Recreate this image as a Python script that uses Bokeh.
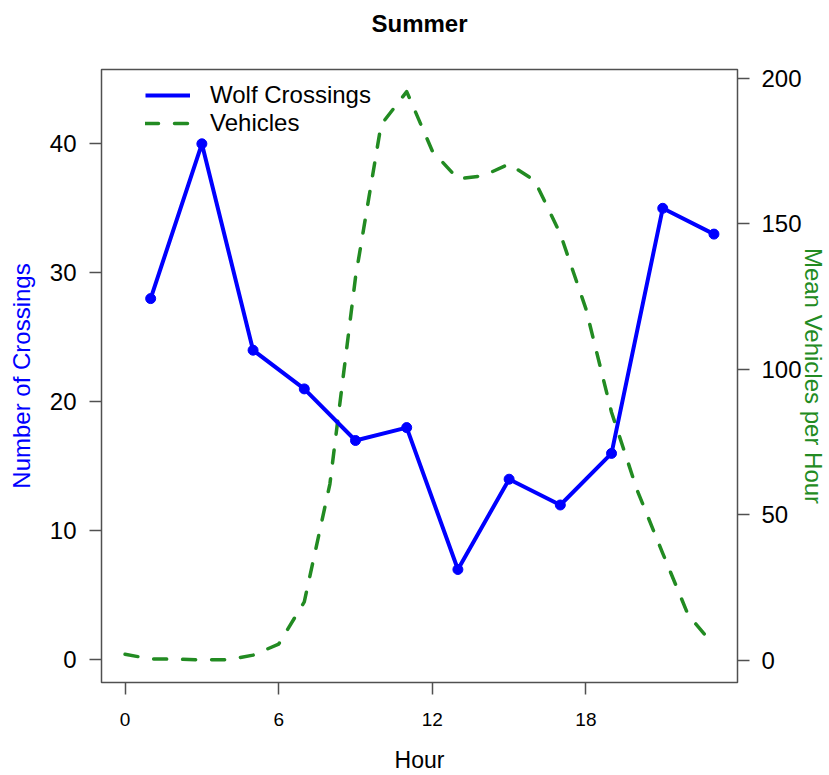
from bokeh.plotting import figure
from bokeh.models import Range1d, LinearAxis, FixedTicker, Legend, LegendItem, Title
from bokeh.embed import file_html
from bokeh.resources import INLINE

# ---- data ----
wolf_hours = [1, 3, 5, 7, 9, 11, 13, 15, 17, 19, 21, 23]
wolf_crossings = [28, 40, 24, 21, 17, 18, 7, 14, 12, 16, 35, 33]

vehicle_hours = list(range(24))
mean_vehicles = [2.0, 0.4, 0.3, 0.1, 0.1, 1.7, 5.5, 20.0, 60.5, 131.5, 184.0, 195.4,
                 175.0, 165.4, 166.5, 170.5, 164.8, 146.5, 120.7, 85.2, 58.4, 36.7, 15.4, 5.1]

x_ticks = [0, 6, 12, 18]
left_ticks = [0, 10, 20, 30, 40]
right_ticks = [0, 50, 100, 150, 200]

FONT = "Liberation Sans"
BLUE = "#0000FF"
GREEN = "#228B22"
GRAY = "#505050"

p = figure(width=829, height=775, output_backend="svg", toolbar_location=None,
           x_range=Range1d(-0.92, 23.92), y_range=Range1d(-1.76, 45.76),
           min_border_left=101, min_border_right=91, min_border_top=69,
           min_border_bottom=93)
p.extra_y_ranges = {"veh": Range1d(-7.7, 203.0)}
p.xgrid.visible = False
p.ygrid.visible = False
p.outline_line_color = GRAY
p.outline_line_width = 1.5
p.background_fill_color = "white"
p.border_fill_color = "white"

# spacer between frame and title (pushes the title up)
p.add_layout(Title(text=" ", text_font_size="2px", standoff=24), "above")
p.title.text = "Summer"
p.title.text_font = FONT
p.title.text_font_size = "24px"
p.title.text_font_style = "bold"
p.title.align = "center"
p.title.text_color = "black"
p.title.standoff = 10

right_axis = LinearAxis(y_range_name="veh")
p.add_layout(right_axis, "right")

def style_axis(ax, ticks, size):
    ax.ticker = FixedTicker(ticks=ticks)
    ax.axis_line_color = None
    ax.major_tick_line_color = GRAY
    ax.major_tick_line_width = 1.5
    ax.major_tick_in = 0
    ax.major_tick_out = 12
    ax.minor_tick_line_color = None
    ax.major_label_text_font = FONT
    ax.major_label_text_font_size = size
    ax.major_label_text_color = "black"
    ax.axis_label_text_font = FONT
    ax.axis_label_text_font_style = "normal"

style_axis(p.xaxis[0], x_ticks, "19px")
p.xaxis[0].major_label_standoff = 18
p.xaxis[0].axis_label = "Hour"
p.xaxis[0].axis_label_text_font_size = "23px"
p.xaxis[0].axis_label_text_color = "black"
p.xaxis[0].axis_label_standoff = 18

style_axis(p.yaxis[0], left_ticks, "24px")
p.yaxis[0].major_label_standoff = 13
p.yaxis[0].axis_label = "Number of Crossings"
p.yaxis[0].axis_label_text_font_size = "24px"
p.yaxis[0].axis_label_text_color = BLUE
p.yaxis[0].axis_label_standoff = 12

style_axis(right_axis, right_ticks, "24px")
right_axis.major_label_standoff = 12
right_axis.axis_label = "Mean Vehicles per Hour"
right_axis.axis_label_text_font_size = "24px"
right_axis.axis_label_text_color = GREEN
right_axis.axis_label_standoff = -5

veh_line = p.line(vehicle_hours, mean_vehicles, y_range_name="veh", line_color=GREEN,
                  line_width=3.5, line_dash="13 16", line_cap="round", line_join="round")
wolf_line = p.line(wolf_hours, wolf_crossings, line_color=BLUE, line_width=4,
                   line_join="round")
p.scatter(wolf_hours, wolf_crossings, size=10, color=BLUE)

legend = Legend(items=[LegendItem(label="Wolf Crossings", renderers=[wolf_line]),
                       LegendItem(label="Vehicles", renderers=[veh_line])],
                location=(44, 545), border_line_color=None, background_fill_alpha=0,
                padding=0, margin=0, spacing=0, glyph_width=45, glyph_height=28,
                label_height=28, label_standoff=20, label_text_font=FONT,
                label_text_font_size="24px", label_text_color="black")
p.add_layout(legend)

open("out.html", "w").write(file_html(p, INLINE))
